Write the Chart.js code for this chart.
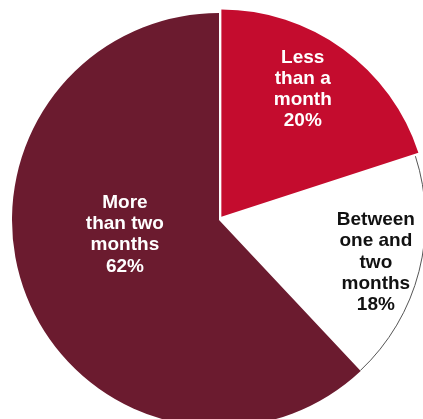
<!DOCTYPE html>
<html>
<head>
<meta charset="utf-8">
<script src="https://cdn.jsdelivr.net/npm/chart.js@4"></script>
<style>
  html, body { margin: 0; padding: 0; background: #fff; }
  #wrap { width: 423px; height: 419px; }
</style>
</head>
<body>
<div id="wrap"><canvas id="chart" width="423" height="419"></canvas></div>
<script>
// data
const categories = ['Less than a month', 'Between one and two months', 'More than two months'];
const shares = [20, 18, 62];
const labelLines = [
  ['Less', 'than a', 'month'],
  ['Between', 'one and', 'two', 'months'],
  ['More', 'than two', 'months']
];

const fillColors = ['#C40C2E', '#FFFFFF', '#6B1B2F'];
const textColors = ['#FFFFFF', '#111111', '#FFFFFF'];
// thin outline only on the rim of the white slice
const rimColors = [null, '#555555', null];
// where each label sits: fraction of radius, small angle nudge (degrees)
const labelRadius = [0.73, 0.785, 0.46];
const labelNudge = [-3.4, 0.7, 12.8];

const sliceLabels = {
  id: 'sliceLabels',
  afterDatasetsDraw(chart) {
    const ctx = chart.ctx;
    const meta = chart.getDatasetMeta(0);
    ctx.save();
    // rim outline
    meta.data.forEach((arc, i) => {
      if (!rimColors[i]) return;
      const p = arc.getProps(['x', 'y', 'startAngle', 'endAngle', 'outerRadius'], true);
      ctx.beginPath();
      ctx.arc(p.x, p.y, p.outerRadius - 0.5, p.startAngle, p.endAngle);
      ctx.strokeStyle = rimColors[i];
      ctx.lineWidth = 1;
      ctx.stroke();
    });
    ctx.font = 'bold 19px "Liberation Sans", Arial, sans-serif';
    ctx.textAlign = 'center';
    ctx.textBaseline = 'middle';
    meta.data.forEach((arc, i) => {
      const p = arc.getProps(['x', 'y', 'startAngle', 'endAngle', 'outerRadius'], true);
      const mid = (p.startAngle + p.endAngle) / 2;
      // same shift Chart.js applies for an exploded slice
      const off = (arc.options.offset || 0) / 4;
      const ox = p.x + Math.cos(mid) * off;
      const oy = p.y + Math.sin(mid) * off;
      const a = mid + labelNudge[i] * Math.PI / 180;
      const r = p.outerRadius * labelRadius[i];
      const cx = ox + Math.cos(a) * r;
      const cy = oy + Math.sin(a) * r;
      const lines = labelLines[i].concat([shares[i] + '%']);
      const lh = 21.2;
      const top = cy - (lines.length - 1) * lh / 2;
      ctx.fillStyle = textColors[i];
      lines.forEach((t, k) => ctx.fillText(t, cx, top + k * lh));
    });
    ctx.restore();
  }
};

new Chart(document.getElementById('chart'), {
  type: 'pie',
  data: {
    labels: categories,
    datasets: [{
      data: shares,
      backgroundColor: fillColors,
      borderWidth: 0,
      offset: [16, 0, 0]
    }]
  },
  options: {
    responsive: false,
    animation: false,
    radius: 207,
    layout: { padding: { left: 15, right: 0, top: 21, bottom: 0 } },
    plugins: {
      legend: { display: false },
      tooltip: { enabled: false }
    }
  },
  plugins: [sliceLabels]
});
</script>
</body>
</html>
